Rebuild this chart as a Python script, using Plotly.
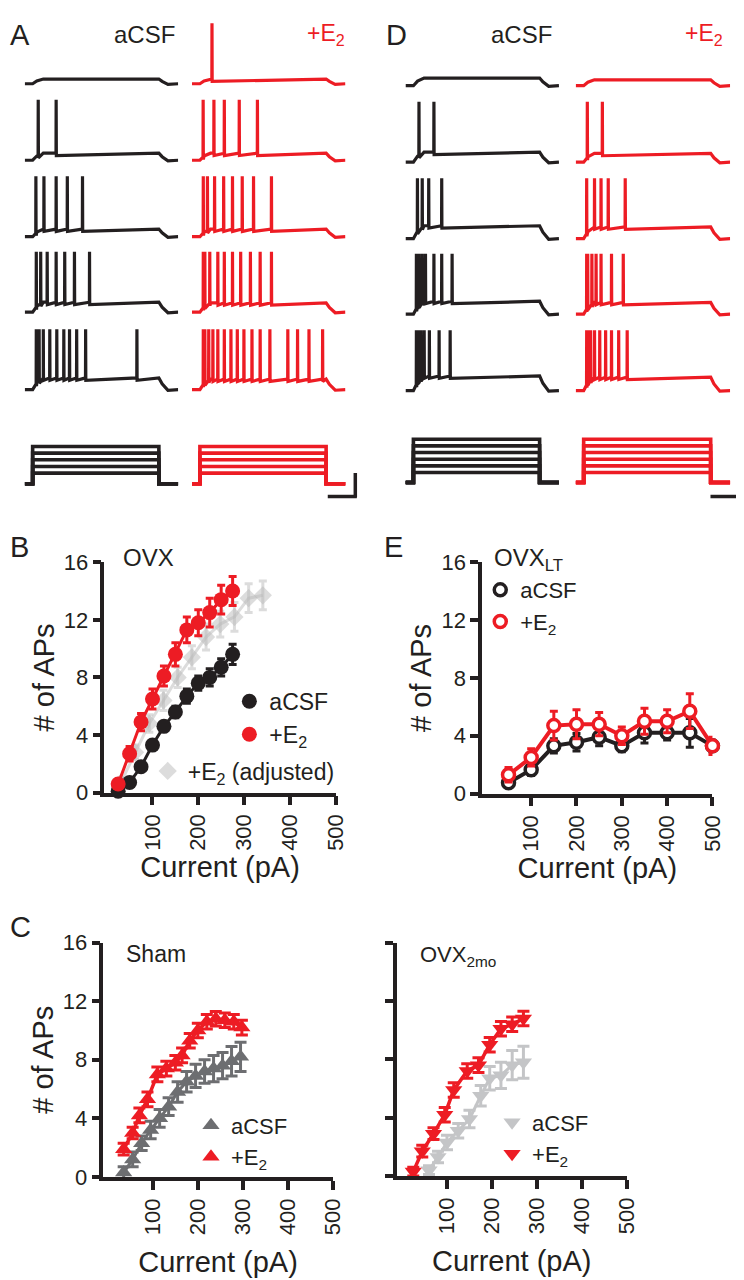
"""Firing traces and F-I curves (OVX, OVX-LT, Sham, OVX 2mo) rebuilt in Plotly."""

import numpy as np
import plotly.graph_objects as go

BLACK = "#231f20"
RED = "#ed1c24"
DARK_GRAY = "#6d6e71"
LIGHT_GRAY = "#c4c5c7"
ADJ_GRAY = "rgba(185,185,185,0.5)"
FONT = "Arial, 'Liberation Sans', sans-serif"

W, H = 744, 1280

# ---- example sweeps: spike times (ms after step onset), one list per sweep ----
A_ACSF_SPIKES = [
    [],
    [20, 158],
    [2, 64, 158, 244, 361],
    [5, 39, 89, 158, 224, 299, 415],
    [5, 27, 59, 109, 163, 217, 261, 316, 385, 780],
]
A_E2_SPIKES = [
    [70],
    [2, 85, 165, 280, 420],
    [3, 35, 90, 160, 228, 303, 390, 528],
    [3, 15, 53, 115, 165, 228, 291, 366, 441, 528],
    [3, 15, 45, 77, 115, 165, 216, 265, 316, 378, 441, 516, 654, 729, 817, 922],
]
D_ACSF_SPIKES = [
    [],
    [20, 135],
    [8, 45, 95, 195],
    [0, 10, 20, 45, 70, 135, 195, 275],
    [0, 8, 15, 35, 60, 100, 175, 260],
]
D_E2_SPIKES = [
    [],
    [5, 120],
    [0, 60, 110, 165, 295],
    [0, 8, 40, 72, 110, 190, 280],
    [0, 8, 30, 60, 100, 145, 190, 245, 310],
]
# steady depolarisation during the step (mV), per sweep
A_ACSF_DEPOL = [8, 12, 13, 17, 20]
A_E2_DEPOL = [8, 12, 13, 16, 18]
D_ACSF_DEPOL = [13, 17, 22, 22, 25]
D_E2_DEPOL = [10, 15, 20, 20, 23]
# injected current steps (pA)
A_STEPS = [80, 130, 180, 230, 280]
D_STEPS = [75, 125, 175, 225, 275, 325]

SPIKE_PEAK = 33
REST = -70
ENV_T = [-83, -22, 10, 60, 950, 975, 1020, 1099]
CUR_ON, CUR_OFF = -22, 950
T_RANGE = [-83, 1099]

# ---- F-I curves ----
OVX_I = [25, 50, 75, 100, 125, 150, 175, 200, 225, 250, 275]
OVX_ACSF = [0.1, 0.7, 1.8, 3.3, 4.6, 5.6, 6.7, 7.6, 8.0, 8.7, 9.6]
OVX_ACSF_ERR = [0.3, 0.3, 0.3, 0.3, 0.3, 0.4, 0.5, 0.5, 0.6, 0.6, 0.7]
OVX_E2 = [0.6, 2.7, 4.9, 6.5, 8.1, 9.6, 11.3, 11.8, 12.5, 13.4, 14.0]
OVX_E2_ERR = [0.3, 0.5, 0.6, 0.7, 0.7, 0.8, 0.9, 0.9, 1.0, 1.0, 1.0]
OVX_ADJ_I = [31, 62, 93, 124, 155, 186, 217, 248, 279, 310, 341]
OVX_ADJ = [0.7, 2.8, 4.8, 6.4, 8.0, 9.4, 10.8, 11.7, 12.2, 13.5, 13.7]
OVX_ADJ_ERR = [0.3, 0.5, 0.6, 0.7, 0.7, 0.8, 0.9, 0.9, 1.0, 1.0, 1.0]

LT_I = [50, 100, 150, 200, 250, 300, 350, 400, 450, 500]
LT_ACSF = [0.75, 1.65, 3.3, 3.55, 3.9, 3.3, 4.2, 4.2, 4.2, 3.3]
LT_ACSF_ERR = [0.3, 0.4, 0.5, 0.6, 0.6, 0.4, 0.7, 0.5, 1.0, 0.4]
LT_E2 = [1.3, 2.5, 4.7, 4.8, 4.8, 4.0, 5.0, 5.0, 5.7, 3.3]
LT_E2_ERR = [0.5, 0.6, 1.0, 1.0, 0.8, 0.6, 0.9, 0.8, 1.2, 0.6]

SHAM_ACSF_I = [35, 55, 75, 95, 115, 135, 155, 175, 195, 215, 235, 255, 275, 295]
SHAM_ACSF = [0.3, 1.2, 2.3, 3.2, 4.0, 4.8, 5.8, 6.5, 6.9, 7.2, 7.4, 7.6, 7.9, 8.2]
SHAM_ACSF_ERR = [0.4, 0.5, 0.5, 0.6, 0.6, 0.6, 0.7, 0.7, 0.8, 0.8, 0.9, 0.9, 1.0, 1.0]
SHAM_E2_I = [35, 55, 70, 88, 110, 130, 150, 165, 182, 200, 220, 240, 260, 280, 298]
SHAM_E2 = [1.9, 3.0, 4.2, 5.3, 7.0, 7.4, 7.8, 8.3, 9.3, 10.0, 10.6, 10.8, 10.7, 10.6, 10.2]
SHAM_E2_ERR = [0.4, 0.4, 0.5, 0.5, 0.5, 0.5, 0.5, 0.5, 0.5, 0.5, 0.5, 0.5, 0.5, 0.5, 0.5]

O2_ACSF_I = [60, 80, 100, 125, 150, 175, 195, 220, 245, 270]
O2_ACSF = [0.4, 1.3, 2.3, 3.1, 3.9, 5.5, 6.7, 6.9, 7.6, 7.8]
O2_ACSF_ERR = [0.3, 0.4, 0.5, 0.5, 0.6, 0.7, 0.8, 0.9, 1.0, 1.1]
O2_E2_I = [25, 45, 70, 95, 115, 145, 170, 195, 220, 245, 270]
O2_E2 = [0.3, 1.7, 2.9, 4.2, 5.9, 7.2, 7.6, 9.0, 10.1, 10.4, 10.8]
O2_E2_ERR = [0.3, 0.4, 0.4, 0.5, 0.5, 0.5, 0.5, 0.5, 0.5, 0.5, 0.5]

X_TICKS = [100, 200, 300, 400, 500]
Y_TICKS = [0, 4, 8, 12, 16]


def px(x):
    return x / W


def py(y):
    return 1 - y / H


fig = go.Figure()
axes = {}
n_axes = [0]


def new_axes(x0, x1, top, bottom, xkw, ykw):
    n_axes[0] += 1
    k = "" if n_axes[0] == 1 else str(n_axes[0])
    axes["xaxis" + k] = dict(domain=[px(x0), px(x1)], anchor="y" + k, **xkw)
    axes["yaxis" + k] = dict(domain=[py(bottom), py(top)], anchor="x" + k, **ykw)
    return "x" + k, "y" + k


hidden = dict(visible=False, fixedrange=True)


def voltage_xy(spikes, depol):
    lv = [REST, REST, REST + 0.6 * depol, REST + depol, REST + depol,
          REST + 0.5 * depol, REST - 1, REST]
    pts = list(zip(ENV_T, lv))
    for s in spikes:
        base = float(np.interp(s, ENV_T, lv))
        pts += [(s, base), (s + 1, SPIKE_PEAK), (s + 2.5, base - 4)]
    pts.sort()
    return [p[0] for p in pts], [p[1] for p in pts]


# voltage sweeps: columns (x-left, x-right, spikes, depol, colour, row baselines)
columns = [
    (17, 173, A_ACSF_SPIKES, A_ACSF_DEPOL, BLACK, [65, 143, 221, 298, 377]),
    (187, 343, A_E2_SPIKES, A_E2_DEPOL, RED, [65, 143, 221, 298, 377]),
    (404, 560, D_ACSF_SPIKES, D_ACSF_DEPOL, BLACK, [67, 145, 223, 300, 378]),
    (577, 734, D_E2_SPIKES, D_E2_DEPOL, RED, [67, 145, 223, 300, 378]),
]
for x0, x1, spikes, depol, col, bases in columns:
    for sp, d, b in zip(spikes, depol, bases):
        xa, ya = new_axes(x0, x1, b - 64, b + 6,
                          dict(range=T_RANGE, **hidden), dict(range=[-80, 37], **hidden))
        tx, vy = voltage_xy(sp, d)
        fig.add_trace(go.Scatter(x=tx, y=vy, mode="lines", xaxis=xa, yaxis=ya,
                                 line=dict(color=col, width=3.2), showlegend=False,
                                 hoverinfo="skip", cliponaxis=False))

# current step protocols
cur_cols = [
    (17, 173, A_STEPS, BLACK, 425, 480, [-51.6, 353.7]),
    (187, 343, A_STEPS, RED, 425, 480, [-51.6, 353.7]),
    (404, 560, D_STEPS, BLACK, 420, 480, [-61.2, 381]),
    (577, 734, D_STEPS, RED, 420, 480, [-61.2, 381]),
]
for x0, x1, steps, col, top, bot, rng in cur_cols:
    xa, ya = new_axes(x0, x1, top, bot, dict(range=T_RANGE, **hidden), dict(range=rng, **hidden))
    for amp in steps:
        fig.add_trace(go.Scatter(
            x=[T_RANGE[0], CUR_ON, CUR_ON, CUR_OFF, CUR_OFF, T_RANGE[1]],
            y=[0, 0, amp, amp, 0, 0], mode="lines", xaxis=xa, yaxis=ya,
            line=dict(color=col, width=3.6), showlegend=False, hoverinfo="skip",
            cliponaxis=False))


def fi_axes(x0, x1, top, bottom, xmin, ylabels=True, standoff=6):
    xkw = dict(range=[xmin, 500], showline=True, linecolor=BLACK, linewidth=3.5,
               ticks="outside", ticklen=9, tickwidth=3.5, tickcolor=BLACK,
               tickvals=X_TICKS, tickangle=-90, showgrid=False, zeroline=False,
               tickfont=dict(size=22, color=BLACK),
               title=dict(text="Current (pA)", font=dict(size=29, color=BLACK),
                          standoff=standoff),
               fixedrange=True)
    ykw = dict(range=[0, 16], showline=True, linecolor=BLACK, linewidth=3.5,
               ticks="outside", ticklen=8, tickwidth=3.5, tickcolor=BLACK,
               tickvals=Y_TICKS, showgrid=False, zeroline=False,
               showticklabels=ylabels, tickfont=dict(size=22, color=BLACK),
               fixedrange=True)
    if ylabels:
        ykw["title"] = dict(text="# of APs", font=dict(size=29, color=BLACK), standoff=2)
    return new_axes(x0, x1, top, bottom, xkw, ykw)


def series(xa, ya, x, y, err, color, symbol, size, lw, legend, name=None,
           fill=None, mline=0, cap=4):
    fig.add_trace(go.Scatter(
        x=x, y=y, mode="lines+markers", xaxis=xa, yaxis=ya,
        line=dict(color=color, width=lw),
        marker=dict(symbol=symbol, size=size, color=fill or color,
                    line=dict(color=color, width=mline)),
        error_y=dict(type="data", array=err, color=color, thickness=3, width=cap),
        showlegend=False, cliponaxis=False, hoverinfo="skip"))
    if name:
        fig.add_trace(go.Scatter(
            x=[None], y=[None], mode="markers", xaxis=xa, yaxis=ya, name=name,
            marker=dict(symbol=symbol, size=min(size, 16), color=fill or color,
                        line=dict(color=color, width=mline)),
            legend=legend, showlegend=True))


# B: OVX
xb, yb = fi_axes(98, 333, 553, 788, -5)
series(xb, yb, OVX_ADJ_I, OVX_ADJ, OVX_ADJ_ERR, ADJ_GRAY, "diamond", 14, 3, "legend3",
       "+E<sub>2</sub> (adjusted)")
series(xb, yb, OVX_I, OVX_ACSF, OVX_ACSF_ERR, BLACK, "circle", 15, 3, "legend2", "aCSF")
series(xb, yb, OVX_I, OVX_E2, OVX_E2_ERR, RED, "circle", 15, 3, "legend2", "+E<sub>2</sub>")

# E: OVX long-term
xe, ye = fi_axes(482, 716, 553, 789, -8)
series(xe, ye, LT_I, LT_ACSF, LT_ACSF_ERR, BLACK, "circle", 12, 4, "legend4", "aCSF",
       fill="white", mline=3.5)
series(xe, ye, LT_I, LT_E2, LT_E2_ERR, RED, "circle", 12, 4, "legend4", "+E<sub>2</sub>",
       fill="white", mline=3.5)

# C: Sham and OVX 2mo
xs, ys = fi_axes(97, 330, 941, 1180, -10, standoff=18)
series(xs, ys, SHAM_ACSF_I, SHAM_ACSF, SHAM_ACSF_ERR, DARK_GRAY, "triangle-up", 15, 3,
       "legend5", "aCSF", cap=6)
series(xs, ys, SHAM_E2_I, SHAM_E2, SHAM_E2_ERR, RED, "triangle-up", 15, 3.5, "legend5",
       "+E<sub>2</sub>", cap=6)
xo, yo = fi_axes(395, 629, 941, 1179, -12, ylabels=False, standoff=18)
series(xo, yo, O2_ACSF_I, O2_ACSF, O2_ACSF_ERR, LIGHT_GRAY, "triangle-down", 15, 3,
       "legend6", "aCSF", cap=6)
series(xo, yo, O2_E2_I, O2_E2, O2_E2_ERR, RED, "triangle-down", 15, 3.5, "legend6",
       "+E<sub>2</sub>", cap=6)


def legend_box(x, y, size=23):
    return dict(x=px(x), y=py(y), xanchor="left", yanchor="top", bgcolor="rgba(0,0,0,0)",
                font=dict(size=size, color=BLACK, family=FONT), itemwidth=30,
                tracegroupgap=0, borderwidth=0)


def label(text, x, y, size, color=BLACK, anchor="left"):
    return dict(text=text, x=px(x), y=py(y), xref="paper", yref="paper",
                xanchor=anchor, yanchor="middle", showarrow=False,
                font=dict(size=size, color=color, family=FONT))


annotations = [
    label("A", 0, 15, 29), label("aCSF", 106, 15, 24), label("+E<sub>2</sub>", 302, 15, 23, RED),
    label("D", 382, 15, 29), label("aCSF", 489, 15, 24), label("+E<sub>2</sub>", 686, 15, 23, RED),
    label("B", 0, 537, 29), label("OVX", 115, 548, 24),
    label("E", 380, 538, 29), label("OVX<sub>LT</sub>", 492, 550, 24),
    label("C", 0, 925, 29), label("Sham", 118, 953, 23), label("OVX<sub>2mo</sub>", 417, 955, 22),
]

bar = dict(type="line", xref="paper", yref="paper", line=dict(color=BLACK, width=3.5))
shapes = [
    dict(bar, x0=px(353), x1=px(353), y0=py(462), y1=py(487)),
    dict(bar, x0=px(325), x1=px(354.5), y0=py(486), y1=py(486)),
    dict(bar, x0=px(742), x1=px(742), y0=py(465), y1=py(487)),
    dict(bar, x0=px(714), x1=px(743.5), y0=py(486), y1=py(486)),
]

fig.update_layout(
    width=W, height=H, margin=dict(l=0, r=0, t=0, b=0),
    paper_bgcolor="white", plot_bgcolor="white",
    font=dict(family=FONT, color=BLACK),
    annotations=annotations, shapes=shapes,
    legend2=legend_box(225, 673),
    legend3=legend_box(142, 744),
    legend4=legend_box(480, 560, 22),
    legend5=legend_box(186, 1106, 22),
    legend6=legend_box(492, 1103, 22),
    **axes,
)

fig.write_html("out.html")
